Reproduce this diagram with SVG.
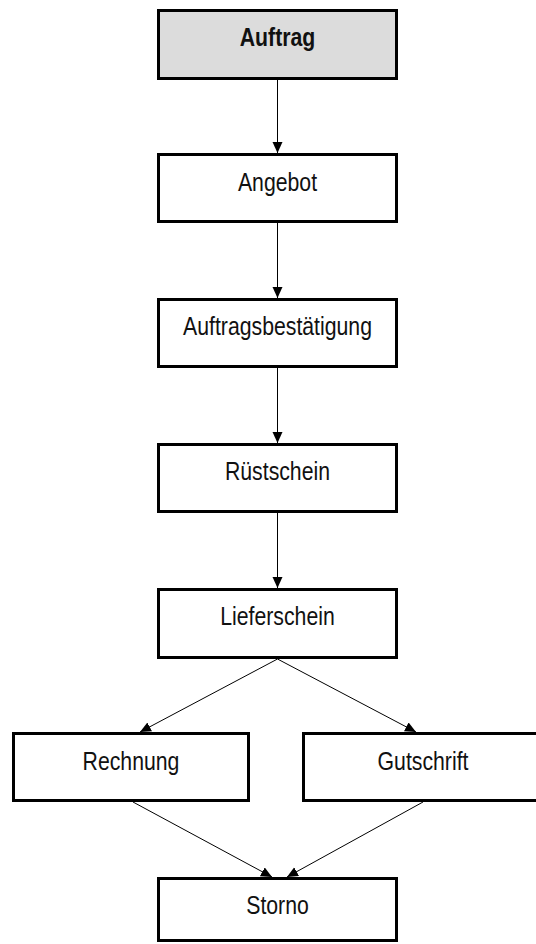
<svg xmlns="http://www.w3.org/2000/svg" width="536" height="944" viewBox="0 0 536 944">
<style>
.box{fill:#ffffff;stroke:#000000;stroke-width:3}
.start{fill:#dcdcdc}
.lbl{font-family:"Liberation Sans",Arial,sans-serif;font-size:25px;fill:#111111;text-anchor:middle}
.bold{font-weight:bold}
.edge{stroke:#000000;stroke-width:1;fill:none;marker-end:url(#arr)}
</style>
<defs>
<marker id="arr" markerUnits="userSpaceOnUse" markerWidth="12" markerHeight="11" refX="11" refY="5" orient="auto">
<path d="M0,0 L11,5 L0,10 z" fill="#000000"/>
</marker>
</defs>
<rect x="0" y="0" width="536" height="944" fill="#ffffff"/>
<g id="connectors">
<line class="edge" x1="277.5" y1="80" x2="277.5" y2="153"/>
<line class="edge" x1="277.5" y1="223" x2="277.5" y2="298"/>
<line class="edge" x1="277.5" y1="368" x2="277.5" y2="443"/>
<line class="edge" x1="277.5" y1="513" x2="277.5" y2="588"/>
<line class="edge" x1="277.5" y1="659" x2="140" y2="732"/>
<line class="edge" x1="277.5" y1="659" x2="416" y2="732"/>
<line class="edge" x1="133" y1="802" x2="272" y2="877"/>
<line class="edge" x1="423" y1="802" x2="287" y2="877"/>
</g>
<g id="auftrag">
<rect class="box start" x="158.5" y="10.5" width="238" height="68"/>
<text class="lbl bold" transform="translate(277.5,45.5) scale(0.85,1)">Auftrag</text>
</g>
<g id="angebot">
<rect class="box" x="158.5" y="154.5" width="238" height="67"/>
<text class="lbl" transform="translate(277.5,190.5) scale(0.85,1)">Angebot</text>
</g>
<g id="auftragsbestaetigung">
<rect class="box" x="158.5" y="299.5" width="238" height="67"/>
<text class="lbl" transform="translate(277.5,334.5) scale(0.85,1)">Auftragsbestätigung</text>
</g>
<g id="ruestschein">
<rect class="box" x="158.5" y="444.5" width="238" height="67"/>
<text class="lbl" transform="translate(277.5,480) scale(0.85,1)">Rüstschein</text>
</g>
<g id="lieferschein">
<rect class="box" x="158.5" y="589.5" width="238" height="68"/>
<text class="lbl" transform="translate(277.5,625) scale(0.85,1)">Lieferschein</text>
</g>
<g id="rechnung">
<rect class="box" x="13.5" y="733.5" width="235" height="67"/>
<text class="lbl" transform="translate(131,769.5) scale(0.85,1)">Rechnung</text>
</g>
<g id="gutschrift">
<rect class="box" x="303.5" y="733.5" width="238" height="67"/>
<text class="lbl" transform="translate(423,769.5) scale(0.85,1)">Gutschrift</text>
</g>
<g id="storno">
<rect class="box" x="158.5" y="878.5" width="238" height="62"/>
<text class="lbl" transform="translate(277.5,914) scale(0.85,1)">Storno</text>
</g>
</svg>
